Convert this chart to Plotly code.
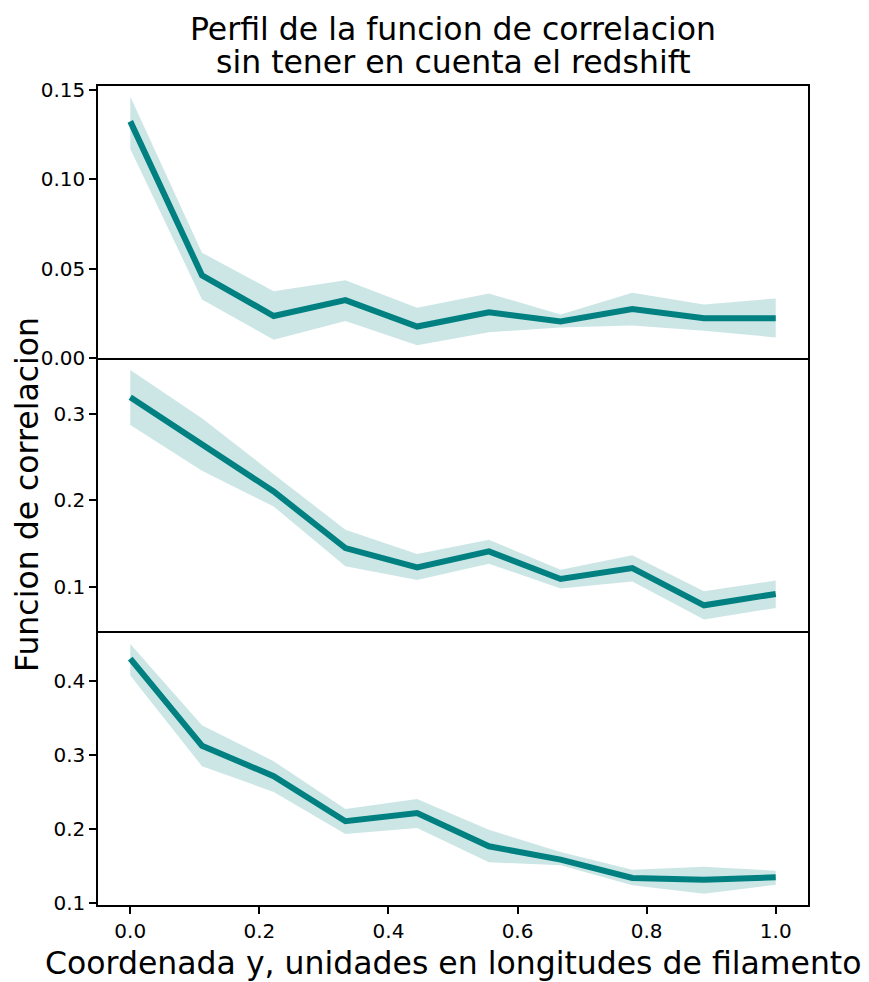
import plotly.graph_objects as go

# ---- data ----
x_coord = [0.0, 0.1111, 0.2222, 0.3333, 0.4444, 0.5556, 0.6667, 0.7778, 0.8889, 1.0]

p1_mean = [0.1324, 0.0463, 0.0235, 0.0324, 0.0176, 0.0256, 0.0204, 0.0274, 0.0222, 0.0222]
p1_upper = [0.1463, 0.0589, 0.0374, 0.0435, 0.0281, 0.0361, 0.0244, 0.0365, 0.0300, 0.0333]
p1_lower = [0.1170, 0.0328, 0.0102, 0.0207, 0.0071, 0.0144, 0.0171, 0.0182, 0.0152, 0.0115]

p2_mean = [0.3193, 0.2646, 0.2104, 0.1450, 0.1227, 0.1412, 0.1093, 0.1220, 0.0789, 0.0920]
p2_upper = [0.3507, 0.2950, 0.2304, 0.1662, 0.1382, 0.1547, 0.1200, 0.1366, 0.0951, 0.1074]
p2_lower = [0.2873, 0.2343, 0.1930, 0.1239, 0.1080, 0.1270, 0.0982, 0.1063, 0.0624, 0.0759]

p3_mean = [0.4306, 0.3127, 0.2713, 0.2103, 0.2215, 0.1764, 0.1583, 0.1335, 0.1312, 0.1344]
p3_upper = [0.4505, 0.3404, 0.2916, 0.2270, 0.2405, 0.1989, 0.1687, 0.1447, 0.1488, 0.1434]
p3_lower = [0.4076, 0.2848, 0.2500, 0.1931, 0.2012, 0.1547, 0.1507, 0.1236, 0.1122, 0.1244]

x_ticks = [0.0, 0.2, 0.4, 0.6, 0.8, 1.0]
y1_ticks = [0.00, 0.05, 0.10, 0.15]
y2_ticks = [0.1, 0.2, 0.3]
y3_ticks = [0.1, 0.2, 0.3, 0.4]

title_line1 = "Perfil de la funcion de correlacion"
title_line2 = "sin tener en cuenta el redshift"
x_label = "Coordenada y, unidades en longitudes de filamento"
y_label = "Funcion de correlacion"

# ---- style ----
LINE_COLOR = "#008080"
FILL_COLOR = "rgba(0,128,128,0.2)"
FONT = "DejaVu Sans"
BIG = 31.5

W, H = 869, 982
L, R, T, B = 98, 61, 86, 77
plot_h = H - T - B


def py(pix):
    """pixel y -> paper y"""
    return (H - B - pix) / plot_h


def px(pix):
    return (pix - L) / (W - L - R)


fig = go.Figure()

panels = [
    (p1_mean, p1_upper, p1_lower, "x", "y"),
    (p2_mean, p2_upper, p2_lower, "x2", "y2"),
    (p3_mean, p3_upper, p3_lower, "x3", "y3"),
]
for mean, up, lo, xa, ya in panels:
    fig.add_trace(go.Scatter(x=x_coord, y=lo, mode="lines", line=dict(width=0),
                             xaxis=xa, yaxis=ya, showlegend=False, hoverinfo="skip"))
    fig.add_trace(go.Scatter(x=x_coord, y=up, mode="lines", line=dict(width=0),
                             fill="tonexty", fillcolor=FILL_COLOR,
                             xaxis=xa, yaxis=ya, showlegend=False, hoverinfo="skip"))
    fig.add_trace(go.Scatter(x=x_coord, y=mean, mode="lines",
                             line=dict(color=LINE_COLOR, width=6),
                             xaxis=xa, yaxis=ya, showlegend=False))

axis_common = dict(showline=True, mirror=True, linecolor="black", linewidth=1.5,
                   showgrid=False, zeroline=False, ticks="outside", ticklen=7,
                   tickwidth=1.5, tickcolor="black",
                   tickfont=dict(family=FONT, size=20, color="black"))

xr = [-0.05, 1.05]
d3 = [0, py(631)]
d2 = [py(631), py(358)]
d1 = [py(358), 1]

fig.update_layout(
    width=W, height=H,
    margin=dict(l=L, r=R, t=T, b=B),
    paper_bgcolor="white", plot_bgcolor="white",
    font=dict(family=FONT, color="black"),
    xaxis=dict(axis_common, range=xr, domain=[0, 1], anchor="y", matches="x3",
               showticklabels=False, ticks=""),
    xaxis2=dict(axis_common, range=xr, domain=[0, 1], anchor="y2", matches="x3",
                showticklabels=False, ticks="", mirror=False),
    xaxis3=dict(axis_common, range=xr, domain=[0, 1], anchor="y3", mirror=False,
                tickvals=x_ticks, tickformat=".1f"),
    yaxis=dict(axis_common, domain=d1, range=[0.0, 0.1522], anchor="x",
               tickvals=y1_ticks, tickformat=".2f"),
    yaxis2=dict(axis_common, domain=d2, range=[0.0492, 0.3646], anchor="x2",
                tickvals=y2_ticks, tickformat=".1f"),
    yaxis3=dict(axis_common, domain=d3, range=[0.0969, 0.468], anchor="x3",
                tickvals=y3_ticks, tickformat=".1f"),
    annotations=[
        dict(text=title_line1, x=px(453), y=py(29), xref="paper", yref="paper",
             xanchor="center", yanchor="middle", showarrow=False,
             font=dict(family=FONT, size=BIG, color="black")),
        dict(text=title_line2, x=px(453), y=py(62), xref="paper", yref="paper",
             xanchor="center", yanchor="middle", showarrow=False,
             font=dict(family=FONT, size=BIG, color="black")),
        dict(text=x_label, x=px(453), y=py(963), xref="paper", yref="paper",
             xanchor="center", yanchor="middle", showarrow=False,
             font=dict(family=FONT, size=BIG, color="black")),
        dict(text=y_label, x=px(27), y=py(495), xref="paper", yref="paper",
             xanchor="center", yanchor="middle", showarrow=False, textangle=-90,
             font=dict(family=FONT, size=BIG, color="black")),
    ],
)

fig.write_html("out.html")
